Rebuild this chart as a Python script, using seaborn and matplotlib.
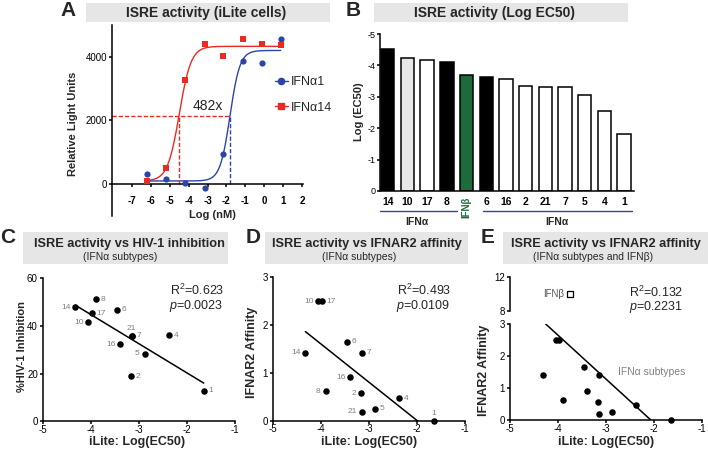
import numpy as np
import pandas as pd
import matplotlib
matplotlib.use('Agg')
import matplotlib.pyplot as plt
import matplotlib.transforms as mtransforms
from matplotlib.patches import Rectangle
from matplotlib.lines import Line2D
import seaborn as sns

W, H = 708, 454

# --- panel A: ISRE dose response in iLite cells
dose_log = [-6.2, -5.2, -4.17, -3.15, -2.16, -1.14, -0.13, 0.87]
rlu_ifna1 = [315, 160, 30, -105, 945, 3875, 3800, 4560]
rlu_ifna14 = [95, 505, 3276, 4390, 4030, 4560, 4400, 4380]
# 4PL fit: bottom, top, logEC50, hill
fit_ifna1 = (100, 4200, -1.81, 1.65)
fit_ifna14 = (100, 4330, -4.49, 1.4)
half_level = 2130

# --- panel B: log EC50 per subtype
b_labels = ['14', '10', '17', '8', 'IFNβ', '6', '16', '2', '21', '7', '5', '4', '1']
b_log_ec50 = [-4.51, -4.25, -4.16, -4.10, -3.69, -3.64, -3.57, -3.35, -3.32, -3.32, -3.06, -2.56, -1.82]
b_fill = ['black', '#e6e6e6', 'white', 'black', '#1d6b3a', 'black',
          'white', 'white', 'white', 'white', 'white', 'white', 'white']

# --- panels C-E: correlations
subtypes = ['14', '10', '17', '8', '6', '16', '2', '21', '7', '5', '4', '1']
ilite_ec50 = [-4.32, -4.05, -3.98, -3.90, -3.46, -3.39, -3.17, -3.15, -3.15, -2.88, -2.38, -1.65]
hiv_inhibition = [47.8, 41.6, 45.4, 51.2, 46.8, 32.4, 18.9, 35.9, 35.9, 28.4, 36.2, 12.8]
ifnar2_affinity = [1.42, 2.5, 2.5, 0.62, 1.65, 0.91, 0.58, 0.19, 1.42, 0.26, 0.47, 0.0]
ifnb_ec50 = -3.75
ifnb_affinity = 10.0

c_sides = {'14': 'l', '10': 'l', '17': 'r', '8': 'r', '6': 'r', '16': 'l', '2': 'r',
           '21': 't', '7': 'r', '5': 'l', '4': 'r', '1': 'r'}
d_sides = {'14': 'l', '10': 'l', '17': 'r', '8': 'l', '6': 'r', '16': 'l', '2': 'l',
           '21': 'l', '7': 'r', '5': 'r', '4': 'r', '1': 't'}

BLUE = '#2b45a6'
RED = '#ec2a24'
GRAY_BOX = '#e6e6e6'

sns.set_theme(style='ticks')
plt.rcParams['font.family'] = ['Liberation Sans', 'DejaVu Sans']
plt.rcParams['axes.unicode_minus'] = False
plt.rcParams['mathtext.fontset'] = 'custom'
plt.rcParams['mathtext.rm'] = 'Liberation Sans'
plt.rcParams['mathtext.it'] = 'Liberation Sans:italic'
plt.rcParams['axes.linewidth'] = 1.1

fig = plt.figure(figsize=(W / 100, H / 100), dpi=100)
fig.patch.set_facecolor('white')


def box(l, t, r, b):
    return [l / W, 1 - b / H, (r - l) / W, (b - t) / H]


def ftext(x, y, s, **kw):
    kw.setdefault('ha', 'center')
    kw.setdefault('va', 'center')
    return fig.text(x / W, 1 - y / H, s, **kw)


def title_box(l, t, r, b):
    fig.patches.append(Rectangle((l / W, 1 - b / H), (r - l) / W, (b - t) / H,
                                 transform=fig.transFigure, facecolor=GRAY_BOX,
                                 edgecolor='none', zorder=0))


def style_axes(ax, size=7):
    sns.despine(ax=ax)
    ax.set_facecolor('none')
    ax.tick_params(direction='out', length=2.5, width=1.1, pad=1,
                   labelsize=size, colors='black')
    for s in ax.spines.values():
        s.set_color('black')


def four_pl(x, p):
    bottom, top, logec50, hill = p
    return bottom + (top - bottom) / (1 + 10 ** ((logec50 - x) * hill))


def label_points(ax, xs, ys, names, sides):
    for x, y, n in zip(xs, ys, names):
        s = sides[n]
        if s == 'l':
            ax.annotate(n, (x, y), xytext=(-3.5, 0), textcoords='offset points',
                        ha='right', va='center', fontsize=6, color='#7f7f7f')
        elif s == 'r':
            ax.annotate(n, (x, y), xytext=(3.5, 0), textcoords='offset points',
                        ha='left', va='center', fontsize=6, color='#7f7f7f')
        else:
            ax.annotate(n, (x, y), xytext=(0, 3), textcoords='offset points',
                        ha='center', va='bottom', fontsize=6, color='#7f7f7f')


# ================= A =================
axA = fig.add_axes(box(112, 25, 303, 216))
style_axes(axA, 7)
xs = np.linspace(dose_log[0], dose_log[-1], 300)
sns.lineplot(x=xs, y=four_pl(xs, fit_ifna14), color=RED, lw=1, ax=axA)
sns.lineplot(x=xs, y=four_pl(xs, fit_ifna1), color=BLUE, lw=1, ax=axA)
sns.scatterplot(x=dose_log, y=rlu_ifna1, color=BLUE, marker='o', s=20, linewidth=0, ax=axA, zorder=3)
sns.scatterplot(x=dose_log, y=rlu_ifna14, color=RED, marker='s', s=16, linewidth=0, ax=axA, zorder=3)
axA.plot([-8.05, fit_ifna1[2]], [half_level, half_level], color=RED, lw=1, ls=(0, (3, 1.5)))
axA.plot([fit_ifna14[2]] * 2, [0, half_level], color=RED, lw=1, ls=(0, (3, 1.5)))
axA.plot([fit_ifna1[2]] * 2, [0, half_level], color=BLUE, lw=1, ls=(0, (3, 1.5)))
axA.text(-3.0, 2450, '482x', fontsize=10, ha='center', va='center')
axA.set_xlim(-8.05, 2.05)
axA.set_ylim(-1000, 5000)
axA.spines['bottom'].set_position(('data', 0))
axA.set_xticks(range(-7, 3))
axA.set_yticks([0, 2000, 4000])
axA.tick_params(axis='x', pad=6, labelsize=7)
for t in axA.get_xticklabels():
    t.set_fontweight('bold')
handles = [Line2D([0], [0], color=BLUE, marker='o', ms=4.5, lw=1),
           Line2D([0], [0], color=RED, marker='s', ms=4, lw=1)]
axA.legend(handles, ['IFNα1', 'IFNα14'], loc='center left',
           bbox_to_anchor=(275 / W, 1 - 95 / H), bbox_transform=fig.transFigure,
           frameon=False, fontsize=9, handlelength=1.0, handletextpad=0.3,
           labelspacing=1.05, borderpad=0, borderaxespad=0)
ftext(73, 124, 'Relative Light Units', rotation=90, fontsize=8, fontweight='bold')
ftext(212, 215, 'Log (nM)', fontsize=8, fontweight='bold')
title_box(86, 3, 330, 22)
ftext(206, 12.5, 'ISRE activity (iLite cells)', fontsize=10, fontweight='bold')
ftext(68, 10, 'A', fontsize=15, fontweight='bold')

# ================= B =================
axB = fig.add_axes(box(380, 34, 634, 191))
style_axes(axB, 6.5)
bdf = pd.DataFrame({'ifn': b_labels, 'log_ec50': b_log_ec50})
sns.barplot(data=bdf, x='ifn', y='log_ec50', hue='ifn', palette=dict(zip(b_labels, b_fill)),
            saturation=1, width=0.68, edgecolor='black', linewidth=1.1, legend=False, ax=axB)
axB.set_xlim(-0.39, 12.5)
axB.set_ylim(0, -5)
axB.set_yticks([0, -1, -2, -3, -4, -5])
axB.set_xlabel('')
axB.set_ylabel('')
axB.tick_params(axis='x', length=0, pad=4, labelsize=7.5)
for t in axB.get_xticklabels():
    t.set_fontweight('bold')
    if t.get_text() == 'IFNβ':
        t.set_rotation(90)
        t.set_color('#1d6b3a')
        t.set_fontsize(7)
trB = mtransforms.blended_transform_factory(axB.transData, axB.transAxes)
axB.plot([-0.39, 3.52], [-0.127, -0.127], color=BLUE, lw=1, transform=trB, clip_on=False)
axB.plot([4.84, 12.4], [-0.127, -0.127], color=BLUE, lw=1, transform=trB, clip_on=False)
axB.text(1.5, -0.197, 'IFNα', transform=trB, ha='center', va='center', fontsize=7.5, fontweight='bold')
axB.text(8.6, -0.197, 'IFNα', transform=trB, ha='center', va='center', fontsize=7.5, fontweight='bold')
ftext(359, 112, 'Log (EC50)', rotation=90, fontsize=8, fontweight='bold')
title_box(374, 3, 628, 22)
ftext(495, 12.5, 'ISRE activity (Log EC50)', fontsize=10, fontweight='bold')
ftext(353, 11, 'B', fontsize=15, fontweight='bold')

# ================= C =================
axC = fig.add_axes(box(42.7, 278.3, 235, 421.3))
style_axes(axC, 7)
sns.regplot(x=np.array(ilite_ec50), y=np.array(hiv_inhibition), scatter=False, ci=None,
            truncate=True, color='black', line_kws=dict(lw=1.1), ax=axC)
sns.scatterplot(x=ilite_ec50, y=hiv_inhibition, color='black', s=22, linewidth=0, ax=axC, zorder=3)
label_points(axC, ilite_ec50, hiv_inhibition, subtypes, c_sides)
axC.set_xlim(-5, -1)
axC.set_ylim(0, 60)
axC.set_xticks([-5, -4, -3, -2, -1])
axC.set_yticks([0, 20, 40, 60])
axC.tick_params(axis='x', length=2, pad=0.5)
axC.set_xlabel('')
axC.set_ylabel('')
ftext(169.5, 290.7, 'R$^2$=0.623', fontsize=9, ha='left')
ftext(169, 305.7, '$p$=0.0023', fontsize=9, ha='left')
ftext(22, 347, '%HIV-1 Inhibition', rotation=90, fontsize=8, fontweight='bold')
ftext(137, 442, 'iLite: Log(EC50)', fontsize=9, fontweight='bold')
title_box(23, 232, 228, 264)
ftext(129, 244.5, 'ISRE activity vs HIV-1 inhibition', fontsize=9.2, fontweight='bold')
ftext(120, 256.5, '(IFNα subtypes)', fontsize=7.5)
ftext(7.5, 238, 'C', fontsize=15, fontweight='bold')

# ================= D =================
axD = fig.add_axes(box(272.7, 277.3, 465, 421))
style_axes(axD, 7)
sns.regplot(x=np.array(ilite_ec50), y=np.array(ifnar2_affinity), scatter=False, ci=None,
            truncate=True, color='black', line_kws=dict(lw=1.1), ax=axD)
sns.scatterplot(x=ilite_ec50, y=ifnar2_affinity, color='black', s=22, linewidth=0, ax=axD,
                zorder=3, clip_on=False)
label_points(axD, ilite_ec50, ifnar2_affinity, subtypes, d_sides)
axD.set_xlim(-5, -1)
axD.set_ylim(0, 3)
axD.set_xticks([-5, -4, -3, -2, -1])
axD.set_yticks([0, 1, 2, 3])
axD.tick_params(axis='x', length=2, pad=0.5)
axD.set_xlabel('')
axD.set_ylabel('')
ftext(396.7, 290.7, 'R$^2$=0.493', fontsize=9, ha='left')
ftext(395.7, 305.7, '$p$=0.0109', fontsize=9, ha='left')
ftext(251.5, 352, 'IFNAR2 Affinity', rotation=90, fontsize=9, fontweight='bold')
ftext(369, 442, 'iLite: Log(EC50)', fontsize=9, fontweight='bold')
title_box(265, 232, 468, 264)
ftext(367, 244.5, 'ISRE activity vs IFNAR2 affinity', fontsize=9.2, fontweight='bold')
ftext(359, 256.5, '(IFNα subtypes)', fontsize=7.5)
ftext(253, 238, 'D', fontsize=15, fontweight='bold')

# ================= E =================
axE = fig.add_axes(box(510, 324, 701.7, 420.3))
axEt = fig.add_axes(box(510, 277.3, 701.7, 310.7))
style_axes(axE, 7)
style_axes(axEt, 7)
all_x = np.array(ilite_ec50 + [ifnb_ec50])
all_y = np.array(ifnar2_affinity + [ifnb_affinity])
sns.regplot(x=all_x, y=all_y, scatter=False, ci=None, truncate=True, color='black',
            line_kws=dict(lw=1.1), ax=axE)
sns.scatterplot(x=ilite_ec50, y=ifnar2_affinity, color='black', s=22, linewidth=0, ax=axE,
                zorder=3, clip_on=False)
sns.scatterplot(x=[ifnb_ec50], y=[ifnb_affinity], marker='s', s=22, facecolor='white',
                edgecolor='black', linewidth=0.9, ax=axEt, zorder=3)
axEt.annotate('IFNβ', (ifnb_ec50, ifnb_affinity), xytext=(-4, 0), textcoords='offset points',
              ha='right', va='center', fontsize=7, color='#555555')
axE.set_xlim(-5, -1)
axE.set_ylim(0, 3)
axE.set_xticks([-5, -4, -3, -2, -1])
axE.set_yticks([0, 1, 2, 3])
axE.tick_params(axis='x', length=2, pad=0.5)
axE.set_xlabel('')
axE.set_ylabel('')
axEt.set_xlim(-5, -1)
axEt.set_ylim(8, 12)
axEt.set_yticks([8, 12])
axEt.set_xticks([])
axEt.spines['bottom'].set_visible(False)
axEt.set_xlabel('')
axEt.set_ylabel('')
ftext(618, 372, 'IFNα subtypes', fontsize=7.5, ha='left', color='#808080')
ftext(628.7, 292, 'R$^2$=0.132', fontsize=9, ha='left')
ftext(628.7, 307, '$p$=0.2231', fontsize=9, ha='left')
ftext(484, 370, 'IFNAR2 Affinity', rotation=90, fontsize=9, fontweight='bold')
ftext(606, 442, 'iLite: Log(EC50)', fontsize=9, fontweight='bold')
title_box(503, 232, 708, 264)
ftext(606, 244.5, 'ISRE activity vs IFNAR2 affinity', fontsize=9.2, fontweight='bold')
ftext(593.5, 256.5, '(IFNα subtypes and IFNβ)', fontsize=7.5)
ftext(488, 238, 'E', fontsize=15, fontweight='bold')

fig.savefig('out.png', dpi=100)
